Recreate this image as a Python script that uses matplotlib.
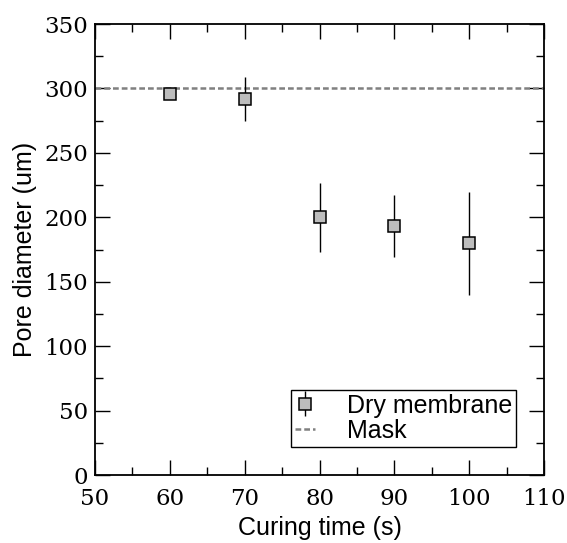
import numpy as np
import matplotlib
matplotlib.use("Agg")
import matplotlib.pyplot as plt
from matplotlib.ticker import MultipleLocator

# curing time (s) and measured pore diameter (um) of the dry membrane
curing_time = [60, 70, 80, 90, 100]
pore_diameter = [296, 292, 200, 193, 180]
pore_error = [0, 17, 27, 24, 40]

# mask pore size
mask_diameter = 300

fig = plt.figure(figsize=(5.67, 5.43), dpi=100)
ax = fig.add_axes([0.1676, 0.1252, 0.7918, 0.8306])

ax.axhline(mask_diameter, color="#808080", lw=1.8, ls=(0, (2.3, 1.2)),
           label="Mask", zorder=2)
ax.errorbar(curing_time, pore_diameter, yerr=pore_error, fmt="s",
            color="black", ecolor="black", elinewidth=1.0, capsize=0,
            markersize=8, markerfacecolor="#bdbdbd", markeredgecolor="black",
            markeredgewidth=1.1, label="Dry membrane", zorder=3)

ax.set_xlim(50, 110)
ax.set_ylim(0, 350)
ax.xaxis.set_major_locator(MultipleLocator(10))
ax.xaxis.set_minor_locator(MultipleLocator(5))
ax.yaxis.set_major_locator(MultipleLocator(50))
ax.yaxis.set_minor_locator(MultipleLocator(25))

ax.tick_params(which="both", direction="in", top=True, right=True, width=1.0,
               labelsize=16.5, labelfontfamily="DejaVu Serif")
ax.tick_params(which="major", length=10.5)
ax.tick_params(which="minor", length=5.5)
ax.tick_params(axis="x", which="major", pad=9)
ax.tick_params(axis="y", which="major", pad=5)
for sp in ax.spines.values():
    sp.set_linewidth(1.3)

ax.set_xlabel("Curing time (s)", family="Liberation Sans", fontsize=18, labelpad=5)
ax.set_ylabel("Pore diameter (um)", family="Liberation Sans", fontsize=18, labelpad=5)

handles, labels = ax.get_legend_handles_labels()
leg = ax.legend(handles[::-1], labels[::-1], loc="lower right",
                bbox_to_anchor=(0.938, 0.063), borderaxespad=0,
                prop={"family": "Liberation Sans", "size": 18},
                frameon=True, fancybox=False, edgecolor="black", framealpha=1,
                borderpad=0.15, labelspacing=0.05, handlelength=0.8,
                handletextpad=1.3, numpoints=1)
leg.get_frame().set_linewidth(1.0)

fig.savefig("out.png", dpi=100)
